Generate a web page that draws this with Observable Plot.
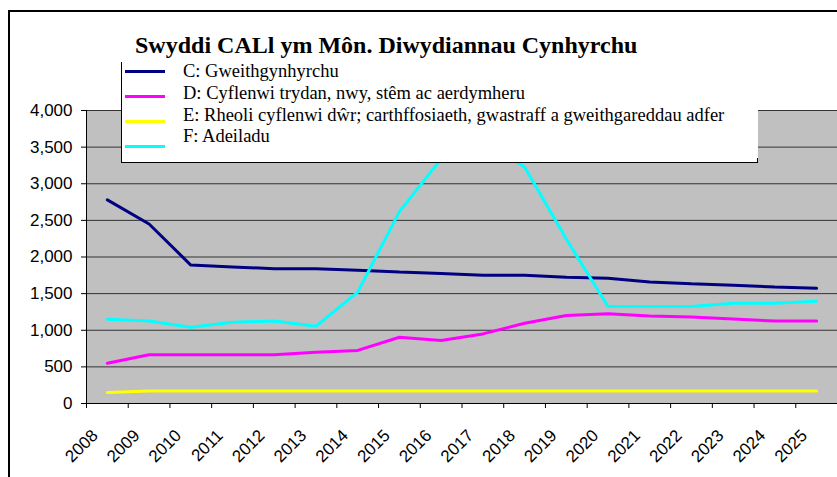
<!DOCTYPE html>
<html>
<head>
<meta charset="utf-8">
<script src="https://cdn.jsdelivr.net/npm/d3@7"></script>
<script src="https://cdn.jsdelivr.net/npm/@observablehq/plot@0.6"></script>
<style>
  html, body { margin: 0; padding: 0; overflow: hidden; background: #fff; }
  #wrap { position: relative; width: 837px; height: 477px; overflow: hidden; }
  #chart { position: absolute; left: 0; top: 0; }
  .abs { position: absolute; }
  #title { left: 135px; top: 33px; white-space: nowrap;
           font: bold 24px/24px "Liberation Serif", "Times New Roman", serif; color: #000; }
  #legend { left: 121px; top: 62px; width: 637px; height: 101px; box-sizing: border-box;
            background: #fff; border-left: 1px solid #000; border-bottom: 1px solid #000; }
  .legtext { white-space: nowrap; font: 18.5px/18.5px "Liberation Serif", "Times New Roman", serif; color: #000; }
  #frame { left: 8px; top: 10px; width: 1000px; height: 1000px; border-left: 2px solid #000; border-top: 2px solid #000; pointer-events: none; }
</style>
</head>
<body>
<div id="wrap">
  <div id="chart"></div>
  <div id="title" class="abs"></div>
  <div id="legend" class="abs"></div>
  <div id="frame" class="abs"></div>
</div>
<script>
const titleText = "Swyddi CALl ym Môn. Diwydiannau Cynhyrchu";
const years = [2008, 2009, 2010, 2011, 2012, 2013, 2014, 2015, 2016, 2017, 2018, 2019, 2020, 2021, 2022, 2023, 2024, 2025];
const seriesNames = [
  "C: Gweithgynhyrchu",
  "D: Cyflenwi trydan, nwy, stêm ac aerdymheru",
  "E: Rheoli cyflenwi dŵr; carthffosiaeth, gwastraff a gweithgareddau adfer",
  "F: Adeiladu"
];
const seriesColors = ["#000080", "#ff00ff", "#ffff00", "#00ffff"];
const seriesC = [2780, 2450, 1890, 1865, 1840, 1840, 1820, 1795, 1775, 1750, 1750, 1725, 1710, 1660, 1635, 1615, 1590, 1575];
const seriesD = [550, 665, 665, 665, 665, 700, 725, 905, 860, 950, 1095, 1200, 1225, 1195, 1180, 1155, 1125, 1125];
const seriesE = [150, 170, 170, 170, 170, 170, 170, 170, 170, 170, 170, 170, 170, 170, 170, 170, 170, 170];
const seriesF = [1150, 1125, 1040, 1110, 1125, 1055, 1520, 2620, 3340, 3600, 3230, 2245, 1325, 1325, 1325, 1370, 1370, 1395];
const yTicks = [0, 500, 1000, 1500, 2000, 2500, 3000, 3500, 4000];
const xTickLabels = years.map(String);

const allSeries = [seriesC, seriesD, seriesE, seriesF];
const rows = [];
allSeries.forEach((vals, s) => {
  years.forEach((yr, i) => rows.push({year: yr, value: vals[i], series: seriesNames[s]}));
});
// category boundaries (between years) for tick marks
const boundaries = years.map(y => y - 0.5);

const chart = Plot.plot({
  width: 837,
  height: 477,
  marginLeft: 86,
  marginRight: 0,
  marginTop: 110,
  marginBottom: 74,
  style: {fontFamily: "'Liberation Sans', Arial, sans-serif", fontSize: "17px", color: "#000", background: "transparent", overflow: "visible"},
  x: {domain: [years[0] - 0.5, years[years.length - 1] + 0.5], axis: null},
  y: {domain: [0, 4000], axis: null},
  color: {domain: seriesNames, range: seriesColors},
  marks: [
    Plot.frame({fill: "#c0c0c0", stroke: null}),
    Plot.ruleY(yTicks.filter(d => d > 0), {stroke: "#333", strokeWidth: 1}),
    Plot.axisY({ticks: yTicks, tickFormat: d3.format(","), tickSize: 5, tickPadding: 9, label: null, fontSize: 17, stroke: "#000"}),
    Plot.axisX({ticks: boundaries, tickFormat: () => "", tickSize: 5, label: null, stroke: "#000"}),
    Plot.ruleX([years[0] - 0.5], {stroke: "#000"}),
    Plot.ruleY([0], {stroke: "#000"}),
    Plot.line(rows, {x: "year", y: "value", z: "series", stroke: "series", strokeWidth: 3, strokeLinejoin: "miter"}),
    Plot.text(years, {x: d => d, y: () => 0, text: (d, i) => xTickLabels[i], rotate: -45, textAnchor: "end", lineAnchor: "bottom", dx: -8.5, dy: 33, fontSize: 17, fill: "#000"})
  ]
});
document.getElementById("chart").appendChild(chart);

document.getElementById("title").textContent = titleText;

const wrap = document.getElementById("wrap");
const frame = document.getElementById("frame");
const lineYs = [71, 96, 121, 146];
const baselines = [77.3, 99.2, 121, 142.6];
seriesNames.forEach((name, i) => {
  const sw = document.createElement("div");
  sw.className = "abs";
  sw.style.cssText = `left:125px;top:${lineYs[i] - 1.5}px;width:40px;height:3px;background:${seriesColors[i]};`;
  wrap.insertBefore(sw, frame);
  const tx = document.createElement("div");
  tx.className = "abs legtext";
  tx.style.left = "183px";
  tx.style.top = (baselines[i] - 15.5) + "px";
  tx.textContent = name;
  wrap.insertBefore(tx, frame);
});
const corner = document.createElement("div");
corner.className = "abs";
corner.style.cssText = "left:757px;top:158px;width:1px;height:4px;background:#000;";
wrap.insertBefore(corner, frame);
</script>
</body>
</html>
